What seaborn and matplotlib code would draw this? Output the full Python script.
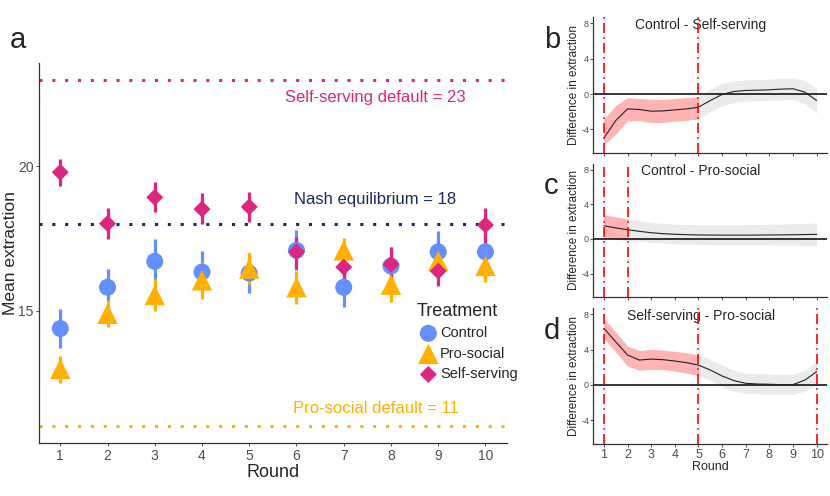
import numpy as np
import pandas as pd
import matplotlib
matplotlib.use("Agg")
import matplotlib.pyplot as plt
import seaborn as sns

# ---- panel a: mean extraction per round ----
rounds = [1, 2, 3, 4, 5, 6, 7, 8, 9, 10]
treatments = ["Control", "Pro-social", "Self-serving"]

control_mean = [14.38, 15.81, 16.71, 16.34, 16.30, 17.09, 15.81, 16.55, 17.04, 17.04]
control_lo = [13.72, 15.29, 15.93, 15.58, 15.61, 16.40, 15.14, 15.93, 16.34, 16.43]
control_hi = [15.06, 16.46, 17.47, 17.07, 17.01, 17.79, 16.51, 17.21, 17.77, 17.65]

prosocial_mean = [12.98, 14.89, 15.54, 16.05, 16.46, 15.81, 17.09, 15.90, 16.72, 16.55]
prosocial_lo = [12.50, 14.42, 14.98, 15.41, 15.91, 15.24, 16.66, 15.29, 16.22, 15.99]
prosocial_hi = [13.43, 15.36, 16.10, 16.69, 17.01, 16.38, 17.52, 16.51, 17.22, 17.11]

selfserving_mean = [19.80, 18.02, 18.93, 18.52, 18.60, 17.04, 16.51, 16.61, 16.37, 17.97]
selfserving_lo = [19.34, 17.48, 18.43, 17.99, 18.06, 16.46, 16.05, 15.99, 15.85, 17.33]
selfserving_hi = [20.27, 18.55, 19.45, 19.07, 19.13, 17.56, 16.98, 17.21, 16.88, 18.55]

selfserving_default = 23
nash_equilibrium = 18
prosocial_default = 11

# ---- panels b-d: smoothed differences ----
rounds_fine = [1, 1.5, 2, 2.5, 3, 3.5, 4, 4.5, 5, 5.5, 6, 6.5, 7, 7.5, 8, 8.5, 9, 9.5, 10]

b_fit = [-4.96, -3.0, -1.67, -1.74, -1.93, -1.90, -1.78, -1.67, -1.48, -0.72, -0.04,
         0.30, 0.42, 0.45, 0.49, 0.57, 0.61, 0.23, -0.72]
b_hi = [-2.8, -1.3, -0.42, -0.5, -0.6, -0.6, -0.5, -0.4, -0.3, 0.6, 1.25,
        1.5, 1.6, 1.65, 1.7, 1.8, 1.85, 1.55, 0.6]
b_lo = [-5.75, -4.5, -3.0, -3.0, -3.2, -3.2, -3.05, -2.95, -2.8, -2.0, -1.3,
        -0.95, -0.8, -0.75, -0.7, -0.65, -0.6, -1.1, -2.15]

c_fit = [1.52, 1.28, 1.07, 0.88, 0.72, 0.61, 0.54, 0.49, 0.46, 0.45, 0.44,
         0.44, 0.44, 0.45, 0.46, 0.47, 0.49, 0.51, 0.53]
c_hi = [2.78, 2.55, 2.3, 2.1, 1.9, 1.8, 1.72, 1.67, 1.64, 1.63, 1.63,
        1.64, 1.65, 1.67, 1.69, 1.72, 1.75, 1.79, 1.83]
c_lo = [0.19, 0.0, -0.15, -0.3, -0.4, -0.5, -0.55, -0.6, -0.63, -0.65, -0.66,
        -0.67, -0.68, -0.69, -0.7, -0.71, -0.72, -0.74, -0.76]

d_fit = [6.42, 4.9, 3.4, 2.83, 2.94, 2.87, 2.72, 2.53, 2.26, 1.7, 1.02,
         0.49, 0.19, 0.11, 0.08, 0.04, 0.04, 0.55, 1.51]
d_hi = [7.55, 6.0, 4.4, 3.9, 4.04, 3.95, 3.8, 3.65, 3.4, 2.9, 2.25,
        1.65, 1.32, 1.27, 1.25, 1.22, 1.2, 1.65, 2.64]
d_lo = [5.28, 3.77, 2.15, 1.7, 1.77, 1.75, 1.6, 1.35, 1.06, 0.55, -0.2,
        -0.7, -0.94, -1.0, -1.03, -1.05, -1.06, -0.7, 0.0]

b_sig = (1, 5)
c_sig = (1, 2)
d_sig = (1, 5)
b_vlines = [1, 5]
c_vlines = [1, 2]
d_vlines = [1, 5, 10]

COLORS = {"Control": "#648FFF", "Pro-social": "#FFB000", "Self-serving": "#DC267F"}
MARKERS = {"Control": "o", "Pro-social": "^", "Self-serving": "D"}
SIZES = {"Control": 150, "Pro-social": 215, "Self-serving": 75}
NAVY = "#1B2A5E"
GREY_TXT = "#4D4D4D"

sns.set_style("ticks")
plt.rcParams["font.family"] = ["Liberation Sans", "DejaVu Sans"]


def style_axes(ax):
    for side in ["top", "right"]:
        ax.spines[side].set_visible(False)
    for side in ["left", "bottom"]:
        ax.spines[side].set_color("#333333")
        ax.spines[side].set_linewidth(0.9)
    ax.tick_params(colors=GREY_TXT, length=2.5, width=0.7)


fig = plt.figure(figsize=(8.3, 4.96), dpi=100)

# ---------------- panel a ----------------
ax = fig.add_axes([0.047, 0.1063, 0.5635, 0.7673])
df = pd.DataFrame({
    "Round": rounds * 3,
    "Mean": control_mean + prosocial_mean + selfserving_mean,
    "lo": control_lo + prosocial_lo + selfserving_lo,
    "hi": control_hi + prosocial_hi + selfserving_hi,
    "Treatment": ["Control"] * 10 + ["Pro-social"] * 10 + ["Self-serving"] * 10,
})

for line_y, col in [(selfserving_default, COLORS["Self-serving"]),
                    (nash_equilibrium, NAVY),
                    (prosocial_default, COLORS["Pro-social"])]:
    ax.axhline(line_y, color=col, lw=2.2, linestyle=(0, (1, 3.2)),
               dash_capstyle="butt", zorder=1)

for t in treatments:
    sub = df[df["Treatment"] == t]
    ax.vlines(sub["Round"], sub["lo"], sub["hi"], color=COLORS[t], lw=2.3, zorder=2)
    sns.scatterplot(data=sub, x="Round", y="Mean", marker=MARKERS[t],
                    s=SIZES[t], color=COLORS[t], edgecolor="none",
                    ax=ax, label=t, zorder=3)

ax.text(7.67, 22.39, f"Self-serving default = {selfserving_default}",
        color=COLORS["Self-serving"], fontsize=12, ha="center", va="center")
ax.text(7.67, 18.84, f"Nash equilibrium = {nash_equilibrium}",
        color=NAVY, fontsize=12, ha="center", va="center")
ax.text(7.67, 11.6, f"Pro-social default = {prosocial_default}",
        color=COLORS["Pro-social"], fontsize=12, ha="center", va="center")

ax.set_xlim(0.55, 10.45)
ax.set_ylim(10.4, 23.6)
ax.set_xticks(rounds)
ax.set_yticks([15, 20])
ax.set_xlabel("Round", fontsize=13, labelpad=1)
ax.set_ylabel("Mean extraction", fontsize=12.5, labelpad=0)
style_axes(ax)
ax.tick_params(labelsize=10, pad=1.5)

leg = ax.legend(title="Treatment", loc="upper left", bbox_to_anchor=(0.795, 0.385),
                frameon=False, fontsize=10.5, title_fontsize=13,
                handletextpad=0.0, labelspacing=0.45, borderaxespad=0,
                handlelength=1.6)
leg._legend_box.align = "left"

fig.text(0.012, 0.92, "a", fontsize=21, ha="left", va="center")

# ---------------- panels b, c, d ----------------
panels = [
    ("b", "Control - Self-serving", b_fit, b_lo, b_hi, b_sig, b_vlines, [0.7148, 0.6909, 0.2819, 0.2742]),
    ("c", "Control - Pro-social", c_fit, c_lo, c_hi, c_sig, c_vlines, [0.7148, 0.4012, 0.2819, 0.2690]),
    ("d", "Self-serving - Pro-social", d_fit, d_lo, d_hi, d_sig, d_vlines, [0.7148, 0.1048, 0.2819, 0.2736]),
]

for letter, title, fit, lo, hi, sig, vl, rect in panels:
    pax = fig.add_axes(rect)
    sdf = pd.DataFrame({"Round": rounds_fine, "fit": fit, "lo": lo, "hi": hi})
    pax.fill_between(sdf["Round"], sdf["lo"], sdf["hi"], color="#EBEBEB", lw=0, zorder=1)
    sel = sdf[(sdf["Round"] >= sig[0]) & (sdf["Round"] <= sig[1])]
    pax.fill_between(sel["Round"], sel["lo"], sel["hi"], color="#FFB3B3", lw=0, zorder=2)
    sns.lineplot(data=sdf, x="Round", y="fit", color="#222222", lw=0.8, ax=pax, zorder=4)
    pax.axhline(0, color="black", lw=1.1, zorder=3)
    for v in vl:
        pax.axvline(v, color="red", lw=1.2, linestyle=(0, (6, 2.5, 1, 2.5)), zorder=5)
    pax.text(5.1, 7.8, title, fontsize=10, ha="center", va="center")
    pax.set_xlim(0.55, 10.45)
    pax.set_ylim(-6.7, 8.7)
    pax.set_xticks(rounds)
    pax.set_yticks([-4, 0, 4, 8])
    pax.set_yticklabels(["-4", "0", "4", "8"])
    pax.set_ylabel("Difference in extraction", fontsize=8.5, labelpad=1)
    style_axes(pax)
    pax.tick_params(axis="y", labelsize=6.5, pad=0.5)
    if letter == "d":
        pax.set_xlabel("Round", fontsize=9, labelpad=0)
        pax.tick_params(axis="x", labelsize=9, pad=1)
    else:
        pax.set_xlabel("")
        pax.tick_params(axis="x", labelbottom=False)
    if pax.get_legend() is not None:
        pax.get_legend().remove()
    fig.text(0.655, rect[1] + rect[3] - 0.045, letter, fontsize=21, ha="left", va="center")

fig.savefig("out.png", dpi=100)
